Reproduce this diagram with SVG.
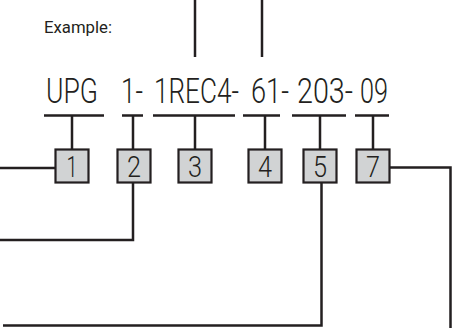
<svg xmlns="http://www.w3.org/2000/svg" width="461" height="328" viewBox="0 0 461 328">
<style>
.ln{stroke:#231f20;stroke-width:2.5;fill:none;stroke-linecap:butt}
.bx{fill:#d1d3d4;stroke:#231f20;stroke-width:2.2}
.num{font-family:Roboto,"Liberation Sans",Arial,sans-serif;font-weight:300;font-size:30px;fill:#231f20;text-anchor:middle}
.code{font-family:Roboto,"Liberation Sans",Arial,sans-serif;font-weight:300;font-size:35px;fill:#231f20}
.lbl{font-family:Roboto,"Liberation Sans",Arial,sans-serif;font-size:17px;fill:#231f20}
</style>
<rect width="461" height="328" fill="#fff"/>
<text class="lbl" x="44" y="33" textLength="68" lengthAdjust="spacingAndGlyphs">Example:</text>
<g id="code" transform="scale(0.76,1)">
<text class="code" x="60.53" y="103" textLength="68.42" lengthAdjust="spacingAndGlyphs">UPG</text>
<text class="code" x="159.21" y="103" textLength="28.95" lengthAdjust="spacingAndGlyphs">1-</text>
<text class="code" x="202.63" y="103" textLength="111.84" lengthAdjust="spacingAndGlyphs">1REC4-</text>
<text class="code" x="330.26" y="103" textLength="50" lengthAdjust="spacingAndGlyphs">61-</text>
<text class="code" x="390.79" y="103" textLength="73.68" lengthAdjust="spacingAndGlyphs">203-</text>
<text class="code" x="473.68" y="103" textLength="36.84" lengthAdjust="spacingAndGlyphs">09</text>
</g>
<g id="brackets" class="ln">
<path d="M44 115.5H104M72 115.5V149"/>
<path d="M122 115.5H143M133 115.5V149"/>
<path d="M153 115.5H235M195 115.5V149"/>
<path d="M243 115.5H280M265 115.5V149"/>
<path d="M292 115.5H346M320 115.5V149"/>
<path d="M355 115.5H389M373 115.5V149"/>
</g>
<g id="n1"><rect class="bx" x="55.5" y="149.5" width="33" height="33"/><text class="num" x="72" y="177" textLength="11" lengthAdjust="spacingAndGlyphs">1</text></g>
<g id="n2"><rect class="bx" x="117.5" y="149.5" width="33" height="33"/><text class="num" x="134" y="177" textLength="14" lengthAdjust="spacingAndGlyphs">2</text></g>
<g id="n3"><rect class="bx" x="178.5" y="149.5" width="33" height="33"/><text class="num" x="195" y="177" textLength="14" lengthAdjust="spacingAndGlyphs">3</text></g>
<g id="n4"><rect class="bx" x="248.5" y="149.5" width="33" height="33"/><text class="num" x="265" y="177" textLength="14" lengthAdjust="spacingAndGlyphs">4</text></g>
<g id="n5"><rect class="bx" x="303.5" y="149.5" width="33" height="33"/><text class="num" x="320" y="177" textLength="14" lengthAdjust="spacingAndGlyphs">5</text></g>
<g id="n7"><rect class="bx" x="356.5" y="149.5" width="33" height="33"/><text class="num" x="373" y="177" textLength="14" lengthAdjust="spacingAndGlyphs">7</text></g>
<g id="connectors" class="ln">
<path d="M195 0V57"/>
<path d="M262 0V57"/>
<path d="M0 168H55"/>
<path d="M133 183V240H0"/>
<path d="M321.5 183V325.5H3"/>
<path d="M390 167.5H450.5V328"/>
</g>
</svg>
